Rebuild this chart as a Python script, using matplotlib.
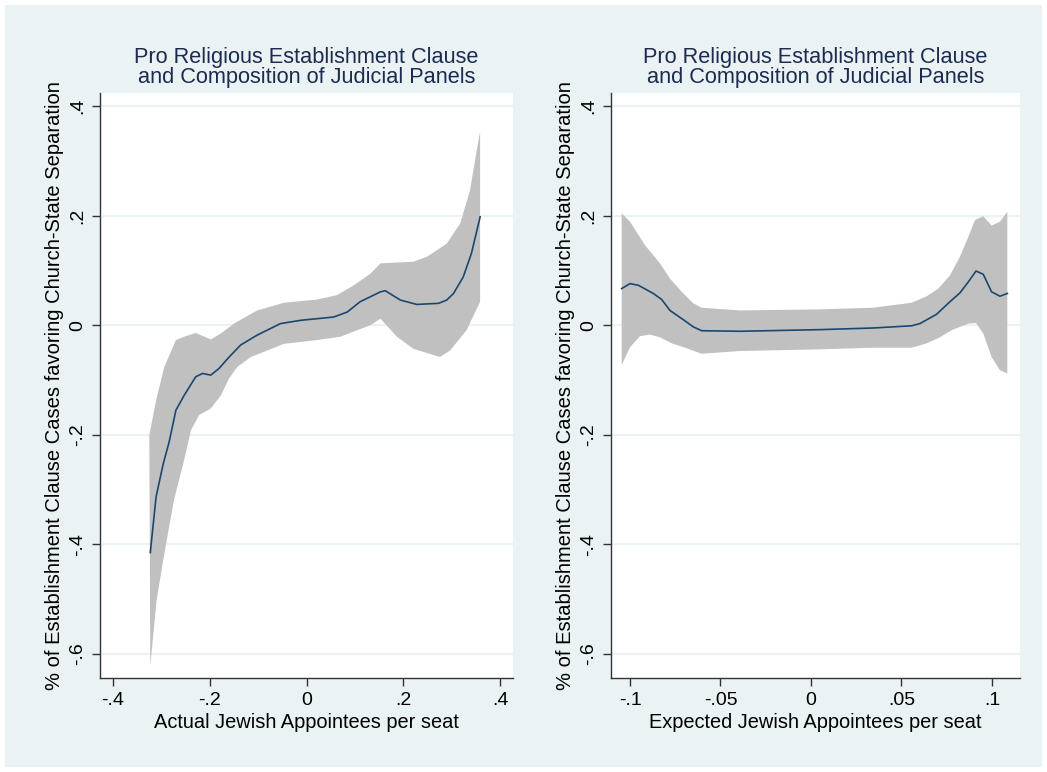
import numpy as np
import matplotlib
matplotlib.use("Agg")
import matplotlib.pyplot as plt
from matplotlib.patches import Rectangle

plt.rcParams['font.family'] = ['Liberation Sans', 'DejaVu Sans']

# --- left panel: actual Jewish appointees ---
act_x = [-0.323, -0.311, -0.296, -0.284, -0.270, -0.253, -0.229, -0.215, -0.198, -0.181,
         -0.160, -0.136, -0.102, -0.054, -0.012, 0.056, 0.084, 0.111, 0.132, 0.153,
         0.163, 0.194, 0.228, 0.273, 0.290, 0.304, 0.324, 0.341, 0.359]
act_y = [-0.415, -0.313, -0.252, -0.213, -0.155, -0.128, -0.094, -0.088, -0.091, -0.079,
         -0.058, -0.036, -0.018, 0.003, 0.009, 0.015, 0.024, 0.043, 0.052, 0.061,
         0.063, 0.046, 0.038, 0.040, 0.046, 0.058, 0.088, 0.131, 0.198]

act_hi_x = [-0.325, -0.311, -0.294, -0.270, -0.253, -0.229, -0.198, -0.177, -0.150,
            -0.102, -0.047, 0.022, 0.063, 0.098, 0.132, 0.153, 0.221, 0.249, 0.290,
            0.318, 0.338, 0.352, 0.359]
act_hi_y = [-0.201, -0.137, -0.076, -0.027, -0.021, -0.014, -0.026, -0.015, 0.003,
            0.027, 0.041, 0.047, 0.055, 0.073, 0.094, 0.113, 0.116, 0.125, 0.149,
            0.186, 0.246, 0.319, 0.353]

act_lo_x = [-0.323, -0.310, -0.294, -0.274, -0.253, -0.239, -0.222, -0.198, -0.177, -0.160,
            -0.143, -0.115, -0.081, -0.047, 0.022, 0.070, 0.105, 0.132, 0.153, 0.187,
            0.221, 0.276, 0.297, 0.331, 0.359]
act_lo_y = [-0.622, -0.502, -0.417, -0.319, -0.246, -0.192, -0.164, -0.152, -0.128, -0.097,
            -0.076, -0.058, -0.046, -0.034, -0.027, -0.021, -0.009, 0.000, 0.012, -0.021,
            -0.043, -0.058, -0.046, -0.009, 0.043]

# --- right panel: expected Jewish appointees ---
exp_x = [-0.1046, -0.1, -0.0954, -0.0871, -0.0825, -0.0779, -0.0705, -0.065, -0.0604, -0.0392,
         0.005, 0.0344, 0.0556, 0.0602, 0.0694, 0.0768, 0.0823, 0.0869, 0.0912, 0.0952,
         0.0998, 0.1044, 0.1085]
exp_y = [0.067, 0.076, 0.073, 0.058, 0.047, 0.027, 0.010, -0.003, -0.010, -0.011,
         -0.008, -0.005, -0.001, 0.003, 0.020, 0.043, 0.059, 0.079, 0.099, 0.093,
         0.061, 0.053, 0.058]

exp_hi_x = [-0.1046, -0.1, -0.0917, -0.0834, -0.0779, -0.0705, -0.065, -0.0604, -0.0392, 0.005,
            0.0344, 0.0556, 0.064, 0.0704, 0.0768, 0.0823, 0.0869, 0.0906, 0.0952, 0.0998,
            0.1044, 0.1085]
exp_hi_y = [0.204, 0.189, 0.146, 0.113, 0.085, 0.058, 0.040, 0.032, 0.027, 0.029,
            0.032, 0.041, 0.053, 0.067, 0.091, 0.125, 0.161, 0.192, 0.199, 0.182,
            0.189, 0.207]

exp_lo_x = [-0.1046, -0.1, -0.0945, -0.089, -0.0834, -0.077, -0.0705, -0.0604, -0.0392, 0.005,
            0.0344, 0.0556, 0.064, 0.0713, 0.0777, 0.0823, 0.0869, 0.0912, 0.0952, 0.0998,
            0.1044, 0.1085]
exp_lo_y = [-0.073, -0.040, -0.020, -0.017, -0.022, -0.033, -0.040, -0.052, -0.047, -0.044,
            -0.041, -0.041, -0.033, -0.022, -0.009, -0.003, 0.003, 0.004, -0.015, -0.058,
            -0.082, -0.088]

y_ticks = [-0.6, -0.4, -0.2, 0, 0.2, 0.4]
y_labels = ['-.6', '-.4', '-.2', '0', '.2', '.4']
act_ticks = [-0.4, -0.2, 0, 0.2, 0.4]
act_labels = ['-.4', '-.2', '0', '.2', '.4']
exp_ticks = [-0.1, -0.05, 0, 0.05, 0.1]
exp_labels = ['-.1', '-.05', '0', '.05', '.1']

title = "Pro Religious Establishment Clause\nand Composition of Judicial Panels"
ylabel = "% of Establishment Clause Cases favoring Church-State Separation"

BG = '#eaf2f3'
NAVY = '#1a476f'
BAND = '#c0c0c0'

W, H = 1047, 772
fig = plt.figure(figsize=(W / 100, H / 100), dpi=100, facecolor='white')
fig.patches.append(Rectangle((5 / W, 5 / H), 1 - 10 / W, 1 - 10 / H,
                             transform=fig.transFigure, facecolor=BG,
                             edgecolor='none', zorder=-10))


def panel(rect, x, y, hx, hy, lx, ly, xticks, xlabels, xlim, xlabel):
    ax = fig.add_axes(rect)
    ax.set_facecolor('white')
    ax.fill(np.concatenate([hx, lx[::-1]]), np.concatenate([hy, ly[::-1]]),
            color=BAND, lw=0, zorder=2)
    ax.plot(x, y, color=NAVY, lw=1.2, zorder=3)
    ax.set_xlim(*xlim)
    ax.set_ylim(-0.644, 0.424)
    ax.set_yticks(y_ticks)
    ax.set_yticklabels(y_labels, rotation=90, va='center')
    ax.set_xticks(xticks)
    ax.set_xticklabels(xlabels)
    ax.grid(axis='y', color=BG, lw=1.5, zorder=1)
    ax.set_axisbelow(True)
    for s in ('top', 'right'):
        ax.spines[s].set_visible(False)
    for s in ('left', 'bottom'):
        ax.spines[s].set_color('#333333')
        ax.spines[s].set_linewidth(1.0)
    ax.tick_params(length=6, width=1.0, color='#333333', labelsize=14, pad=4)
    ax.set_xlabel(xlabel, fontsize=14.4, labelpad=3)
    ax.set_ylabel(ylabel, fontsize=14.5, labelpad=4)
    ax.set_title(title, fontsize=15.7, color='#1c2b4f', linespacing=0.95, pad=7)
    return ax


panel([100 / W, 1 - 678 / H, 413 / W, 585 / H], act_x, act_y,
      act_hi_x, act_hi_y, act_lo_x, act_lo_y,
      act_ticks, act_labels, (-0.427, 0.427), "Actual Jewish Appointees per seat")
panel([611 / W, 1 - 678 / H, 409 / W, 585 / H], exp_x, exp_y,
      exp_hi_x, exp_hi_y, exp_lo_x, exp_lo_y,
      exp_ticks, exp_labels, (-0.1105, 0.1155), "Expected Jewish Appointees per seat")

fig.savefig("out.png", dpi=100, facecolor=fig.get_facecolor())
